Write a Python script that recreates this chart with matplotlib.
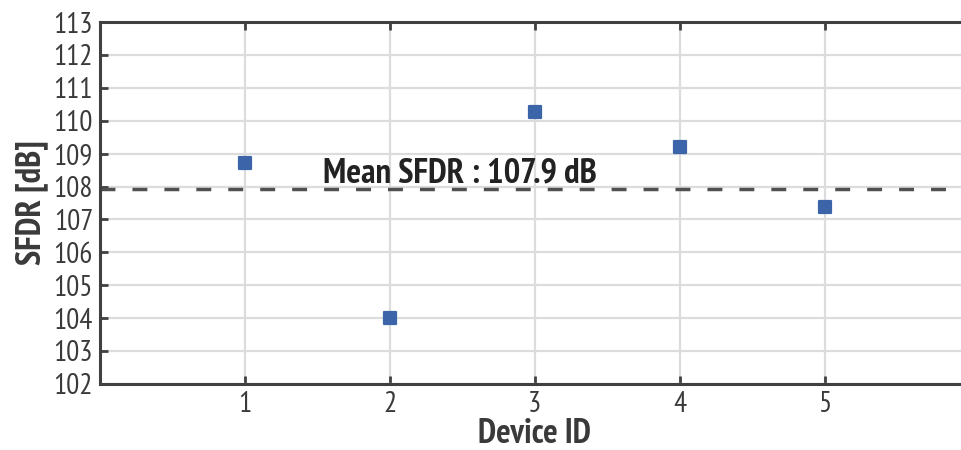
import matplotlib
matplotlib.use("Agg")
import matplotlib.pyplot as plt
from matplotlib.markers import MarkerStyle
import numpy as np

device_ids = [1, 2, 3, 4, 5]
sfdr_db = [108.7, 104.0, 110.27, 109.19, 107.39]
y_ticks = list(range(102, 114))
x_ticks = [1, 2, 3, 4, 5]

mean_sfdr = float(np.mean(sfdr_db))

plt.rcParams['font.family'] = ['PT Sans Narrow', 'DejaVu Sans']

fig = plt.figure(figsize=(9.62, 4.5), dpi=100)
ax = fig.add_axes([0.104, 0.147, 0.904, 0.804])

spine_col = '#404040'
ax.set_xlim(0, 6)
ax.set_ylim(102, 113)
ax.set_xticks(x_ticks)
ax.set_yticks(y_ticks)
ax.grid(True, color='#dcdcdc', lw=1.6, zorder=0)
ax.set_axisbelow(True)

for s in ax.spines.values():
    s.set_color(spine_col)
    s.set_linewidth(2.2)

ax.tick_params(direction='in', length=6, width=2, color=spine_col,
               top=True, right=True, labelsize=21, labelcolor='#3a3a3a', pad=5)

# mean level
ax.plot([0, 5.85], [mean_sfdr, mean_sfdr], color='#505050', lw=2.5,
        dashes=(4.3, 4.9), zorder=2)

# per-device measurements
ax.plot(device_ids, sfdr_db, linestyle='none',
        marker=MarkerStyle('s', joinstyle='round'), markersize=9.2,
        color='#3c64a8', markeredgecolor='#3c64a8', markeredgewidth=1.6,
        zorder=3)

ax.text(1.54, mean_sfdr + 0.2, f'Mean SFDR : {mean_sfdr:.1f} dB',
        fontsize=25, fontweight='bold', color='#222222', va='baseline', ha='left')

ax.set_xlabel('Device ID', fontsize=24.5, fontweight='bold', color='#3a3a3a', labelpad=0)
ax.set_ylabel('SFDR [dB]', fontsize=25, fontweight='bold', color='#3a3a3a', labelpad=4)

fig.savefig('out.png', dpi=100)
